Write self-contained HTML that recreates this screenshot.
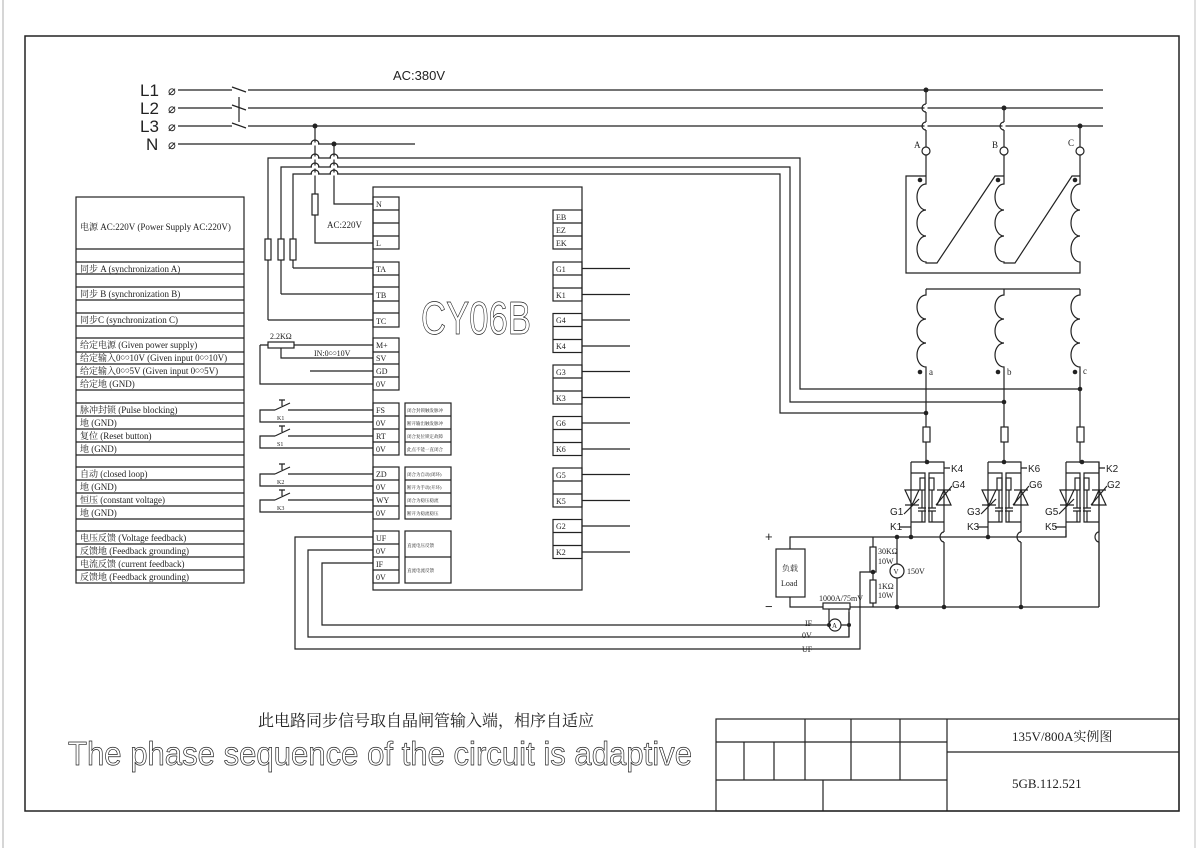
<!DOCTYPE html>
<html><head><meta charset="utf-8"><style>
html,body{margin:0;padding:0;background:#fff;}
svg{display:block;}
text{font-family:"Liberation Serif","Noto Serif CJK SC",serif;fill:#222;}
text.s,.s text{font-family:"Liberation Sans","Noto Sans CJK SC",sans-serif;}
text.o{fill:none;stroke:#222;stroke-width:0.7;}
</style></head><body>
<svg width="1200" height="848" viewBox="0 0 1200 848" xmlns="http://www.w3.org/2000/svg">
<g fill="none" stroke="#222" stroke-width="1.2">
<line x1="3" y1="0" x2="3" y2="848" stroke="#bbb"/>
<line x1="1195" y1="0" x2="1195" y2="848" stroke="#ccc"/>
<rect x="25" y="36" width="1154" height="775" stroke-width="1.5"/>
<rect x="716" y="719" width="463" height="92"/>
<line x1="947" y1="719" x2="947" y2="811"/>
<line x1="947" y1="752" x2="1179" y2="752"/>
<line x1="716" y1="742" x2="947" y2="742"/>
<line x1="716" y1="780" x2="947" y2="780"/>
<line x1="805" y1="719" x2="805" y2="780"/><line x1="851" y1="719" x2="851" y2="780"/><line x1="900" y1="719" x2="900" y2="780"/>
<line x1="744" y1="742" x2="744" y2="780"/><line x1="774" y1="742" x2="774" y2="780"/>
<line x1="823" y1="780" x2="823" y2="811"/>

<line x1="178" y1="90" x2="232" y2="90"/><line x1="232" y1="87" x2="246" y2="92"/><line x1="248" y1="90" x2="1103" y2="90"/>
<line x1="178" y1="108" x2="232" y2="108"/><line x1="232" y1="105" x2="246" y2="110"/><line x1="248" y1="108" x2="1103" y2="108"/>
<line x1="178" y1="126" x2="232" y2="126"/><line x1="232" y1="123" x2="246" y2="128"/><line x1="248" y1="126" x2="1103" y2="126"/>
<line x1="239" y1="97" x2="239" y2="122"/>
<line x1="178" y1="144" x2="415" y2="144"/>
<path d="M268 320 V158 H800 V389 H1080"/>
<path d="M281 294 V167 H790 V402 H1004"/>
<path d="M293 268 V174 H780 V413 H926"/>
<path d="M293 268 H373 M281 294 H373 M268 320 H373"/>
<rect x="265" y="239" width="6" height="21" fill="#fff"/>
<rect x="278" y="239" width="6" height="21" fill="#fff"/>
<rect x="290" y="239" width="6" height="21" fill="#fff"/>
<path d="M315 126 V243 H373"/>
<rect x="312" y="194" width="6" height="21" fill="#fff"/>
<path d="M334 144 V204 H373"/>
<g stroke="#fff" stroke-width="3"><line x1="312" y1="144" x2="318" y2="144"/><line x1="312" y1="158" x2="318" y2="158"/><line x1="312" y1="167" x2="318" y2="167"/><line x1="312" y1="174" x2="318" y2="174"/><line x1="331" y1="158" x2="337" y2="158"/><line x1="331" y1="167" x2="337" y2="167"/><line x1="331" y1="174" x2="337" y2="174"/></g>
<path d="M311 144 a4 4 0 0 1 8 0 M311 158 a4 4 0 0 1 8 0 M311 167 a4 4 0 0 1 8 0 M311 174 a4 4 0 0 1 8 0 M330 158 a4 4 0 0 1 8 0 M330 167 a4 4 0 0 1 8 0 M330 174 a4 4 0 0 1 8 0"/>

<rect x="76" y="197" width="168" height="386"/>
<path d="M76 249H244M76 262H244M76 274H244M76 287H244M76 300H244M76 313H244M76 326H244M76 338H244M76 352H244M76 364H244M76 377H244M76 390H244M76 403H244M76 416H244M76 429H244M76 442H244M76 455H244M76 467H244M76 480H244M76 493H244M76 506H244M76 519H244M76 531H244M76 544H244M76 557H244M76 570H244"/>

<rect x="373" y="187" width="209" height="403"/>
<rect x="373" y="197" width="26" height="52"/><path d="M373 210H399M373 223H399M373 236H399"/>
<rect x="373" y="262" width="26" height="65"/><path d="M373 275H399M373 287H399M373 301H399M373 313H399"/>
<rect x="373" y="338" width="26" height="52"/><path d="M373 352H399M373 364H399M373 377H399"/>
<rect x="373" y="403" width="26" height="52"/><path d="M373 416H399M373 429H399M373 442H399"/>
<rect x="373" y="467" width="26" height="52"/><path d="M373 480H399M373 493H399M373 506H399"/>
<rect x="373" y="531" width="26" height="52"/><path d="M373 544H399M373 557H399M373 570H399"/>
<rect x="405" y="403" width="46" height="52"/><path d="M405 416H451M405 429H451M405 442H451"/>
<rect x="405" y="467" width="46" height="52"/><path d="M405 480H451M405 493H451M405 506H451"/>
<rect x="405" y="531" width="46" height="52"/><path d="M405 557H451"/>
<rect x="553" y="210" width="29" height="39"/><path d="M553 223H582M553 236H582"/>
<g id="gk"><rect x="553" y="262" width="29" height="39"/><path d="M553 275H582M553 288H582M582 268.5H630M582 294.5H630"/></g>
<use href="#gk" y="51.5"/><use href="#gk" y="103"/><use href="#gk" y="154.5"/><use href="#gk" y="206"/><use href="#gk" y="257.5"/>

<path d="M293 345 H373 M260 345 H268 M260 345 V384 H373 M281 348 V358 H373 M310 371 H373"/>
<rect x="268" y="342" width="26" height="6" fill="#fff"/>
<g id="sw"><path d="M373 410 H288 M275 410 H260 V422 H373 M275 410 L290 403 M282 400 L282 406 M279 400 L285 400"/></g>
<use href="#sw" y="26"/><use href="#sw" y="64"/><use href="#sw" y="90"/>
<path d="M373 537 H295 V649 H860 V600"/>
<path d="M373 550 H308 V637 H849 V612"/>
<path d="M373 563 H322 V625 H829"/>

<path d="M926 90 V147 M926 155 V176"/><path d="M1004 108 V147 M1004 155 V176"/><path d="M1080 126 V147 M1080 155 V176"/>
<g stroke="#fff" stroke-width="3"><line x1="926" y1="104" x2="926" y2="112"/><line x1="926" y1="122" x2="926" y2="130"/><line x1="1004" y1="122" x2="1004" y2="130"/></g>
<path d="M926 104 a4 4 0 0 0 0 8 M926 122 a4 4 0 0 0 0 8 M1004 122 a4 4 0 0 0 0 8"/>
<circle cx="926" cy="151" r="4"/><circle cx="1004" cy="151" r="4"/><circle cx="1080" cy="151" r="4"/>
<path d="M926 176 H906 V273 H1080 V263"/>
<path d="M926 176 V184 a9 13 0 0 0 0 26 a9 13 0 0 0 0 26 a9 13 0 0 0 0 26 V263 H937 L995 176 H1004"/>
<path d="M1004 176 V184 a9 13 0 0 0 0 26 a9 13 0 0 0 0 26 a9 13 0 0 0 0 26 V263 H1015 L1072 176 H1080"/>
<path d="M1080 176 V184 a9 13 0 0 0 0 26 a9 13 0 0 0 0 26 a9 13 0 0 0 0 26 V263"/>
<path d="M926 289 H1080"/>
<path d="M926 289 V295 a9 12 0 0 0 0 24 a9 12 0 0 0 0 24 a9 12 0 0 0 0 24 V463"/>
<path d="M1004 289 V295 a9 12 0 0 0 0 24 a9 12 0 0 0 0 24 a9 12 0 0 0 0 24 V463"/>
<path d="M1080 289 V295 a9 12 0 0 0 0 24 a9 12 0 0 0 0 24 a9 12 0 0 0 0 24 V463"/>
<rect x="923" y="427" width="7" height="15" fill="#fff"/><rect x="1001" y="427" width="7" height="15" fill="#fff"/><rect x="1077" y="427" width="7" height="15" fill="#fff"/>

<g id="th">
<path d="M911 462 H944 V532 M944 542 V607 M911 462 V537 M900 527 H911 M944 468 H950"/>
<path d="M944 532 a4 5 0 0 0 0 10"/>
<path d="M911 473 H925 V522 H911 M944 473 H929 V522 H944"/>
<path d="M905 490 H919 L912 505 Z M905 505 H919 M937 505 H951 L944 490 Z M937 490 H951"/>
<path d="M904 514 L919 499 M936 505 L952 486"/>
<rect x="920" y="478" width="5" height="12"/><rect x="929" y="478" width="5" height="12"/>
<path d="M922 490 V508 M918 508 H926 M918 511 H926 M922 511 V522 M932 490 V508 M928 508 H936 M928 511 H936 M932 511 V522"/>
</g>
<use href="#th" x="77"/><use href="#th" x="155"/>
<path d="M790 549 V537 H1066 V530"/>
<path d="M790 597 V607 H1099"/>
<path d="M1099 607 V462"/>
<rect x="776" y="549" width="29" height="48"/>
<path d="M873 537 V547 M873 572 V580 M873 603 V607 M860 600 V572 H873"/>
<rect x="870" y="547" width="6" height="25" fill="#fff"/><rect x="870" y="580" width="6" height="23" fill="#fff"/>
<path d="M897 537 V564 M897 578 V607"/><circle cx="897" cy="571" r="7"/>
<rect x="823" y="603" width="27" height="6" fill="#fff"/>
<path d="M829 609 V625 M849 609 V637 M849 625 H841"/><circle cx="835" cy="625" r="6"/>
</g>
<g fill="#222">
<circle cx="315" cy="126" r="2.5"/><circle cx="334" cy="144" r="2.5"/>
<circle cx="926" cy="90" r="2.5"/><circle cx="1004" cy="108" r="2.5"/><circle cx="1080" cy="126" r="2.5"/>
<circle cx="920" cy="180" r="2.3"/><circle cx="998" cy="180" r="2.3"/><circle cx="1075" cy="180" r="2.3"/>
<circle cx="920" cy="372" r="2.3"/><circle cx="998" cy="372" r="2.3"/><circle cx="1075" cy="372" r="2.3"/>
<circle cx="926" cy="413" r="2.3"/><circle cx="1004" cy="402" r="2.3"/><circle cx="1080" cy="389" r="2.3"/>
<circle cx="927" cy="462" r="2.3"/><circle cx="1004" cy="462" r="2.3"/><circle cx="1082" cy="462" r="2.3"/>
<circle cx="897" cy="537" r="2.3"/><circle cx="911" cy="537" r="2.3"/><circle cx="988" cy="537" r="2.3"/>
<circle cx="873" cy="572" r="2.3"/><circle cx="897" cy="607" r="2.3"/><circle cx="944" cy="607" r="2.3"/><circle cx="1021" cy="607" r="2.3"/>
<circle cx="829" cy="625" r="2"/><circle cx="849" cy="625" r="2"/>
</g>

<g class="s" font-size="17">
<text x="140" y="96">L1</text><text x="140" y="114">L2</text><text x="140" y="132">L3</text><text x="146" y="150">N</text>
</g>
<g font-size="13"><text x="168" y="95">⌀</text><text x="168" y="113">⌀</text><text x="168" y="131">⌀</text><text x="168" y="149">⌀</text></g>
<text class="s" x="393" y="80" font-size="13">AC:380V</text>
<text x="327" y="228" font-size="9">AC:220V</text>
<text class="s o" x="421" y="334" font-size="46" textLength="110" lengthAdjust="spacingAndGlyphs">CY06B</text>
<g font-size="9">
<text x="80" y="230">电源 AC:220V (Power Supply AC:220V)</text>
<text x="80" y="272">同步 A (synchronization A)</text>
<text x="80" y="297">同步 B (synchronization B)</text>
<text x="80" y="323">同步C (synchronization C)</text>
<text x="80" y="348">给定电源 (Given power supply)</text>
<text x="80" y="361">给定输入0∽10V (Given input 0∽10V)</text>
<text x="80" y="374">给定输入0∽5V (Given input 0∽5V)</text>
<text x="80" y="387">给定地 (GND)</text>
<text x="80" y="413">脉冲封锁 (Pulse blocking)</text>
<text x="80" y="426">地 (GND)</text>
<text x="80" y="439">复位 (Reset button)</text>
<text x="80" y="452">地 (GND)</text>
<text x="80" y="477">自动 (closed loop)</text>
<text x="80" y="490">地 (GND)</text>
<text x="80" y="503">恒压 (constant voltage)</text>
<text x="80" y="516">地 (GND)</text>
<text x="80" y="541">电压反馈 (Voltage feedback)</text>
<text x="80" y="554">反馈地 (Feedback grounding)</text>
<text x="80" y="567">电流反馈 (current feedback)</text>
<text x="80" y="580">反馈地 (Feedback grounding)</text>
</g>
<g font-size="8">
<text x="376" y="207">N</text><text x="376" y="246">L</text>
<text x="376" y="272">TA</text><text x="376" y="298">TB</text><text x="376" y="324">TC</text>
<text x="376" y="348">M+</text><text x="376" y="361">SV</text><text x="376" y="374">GD</text><text x="376" y="387">0V</text>
<text x="376" y="413">FS</text><text x="376" y="426">0V</text><text x="376" y="439">RT</text><text x="376" y="452">0V</text>
<text x="376" y="477">ZD</text><text x="376" y="490">0V</text><text x="376" y="503">WY</text><text x="376" y="516">0V</text>
<text x="376" y="541">UF</text><text x="376" y="554">0V</text><text x="376" y="567">IF</text><text x="376" y="580">0V</text>
<text x="556" y="220">EB</text><text x="556" y="233">EZ</text><text x="556" y="246">EK</text>
<text x="556" y="272">G1</text><text x="556" y="298">K1</text><text x="556" y="323">G4</text><text x="556" y="349">K4</text>
<text x="556" y="375">G3</text><text x="556" y="401">K3</text><text x="556" y="426">G6</text><text x="556" y="452">K6</text>
<text x="556" y="478">G5</text><text x="556" y="504">K5</text><text x="556" y="529">G2</text><text x="556" y="555">K2</text>
<text x="270" y="339">2.2KΩ</text><text x="314" y="356">IN:0∽10V</text>
<text x="277" y="420" font-size="6">K1</text><text x="277" y="446" font-size="6">S1</text><text x="277" y="484" font-size="6">K2</text><text x="277" y="510" font-size="6">K3</text>
</g>
<g font-size="4.5">
<text x="407" y="412">闭合封锁触发脉冲</text><text x="407" y="425">断开输出触发脉冲</text><text x="407" y="438">闭合复位锁定故障</text><text x="407" y="451">此点不能一直闭合</text>
<text x="407" y="476">闭合为自动(闭环)</text><text x="407" y="489">断开为手动(开环)</text><text x="407" y="502">闭合为稳压稳流</text><text x="407" y="515">断开为稳流稳压</text>
<text x="407" y="547">直流电压反馈</text><text x="407" y="572">直流电流反馈</text>
</g>
<g font-size="9">
<text x="914" y="148">A</text><text x="992" y="148">B</text><text x="1068" y="146">C</text>
<text x="929" y="375">a</text><text x="1007" y="375">b</text><text x="1083" y="374">c</text>
</g>
<g class="s" font-size="10">
<text x="951" y="472">K4</text><text x="952" y="488">G4</text><text x="890" y="515">G1</text><text x="890" y="530">K1</text>
<text x="1028" y="472">K6</text><text x="1029" y="488">G6</text><text x="967" y="515">G3</text><text x="967" y="530">K3</text>
<text x="1106" y="472">K2</text><text x="1107" y="488">G2</text><text x="1045" y="515">G5</text><text x="1045" y="530">K5</text>
<text x="765" y="541" font-size="13">+</text><text x="765" y="611" font-size="13">−</text>
</g>
<g font-size="8">
<text x="782" y="571">负载</text><text x="781" y="586">Load</text>
<text x="878" y="554">30KΩ</text><text x="878" y="564">10W</text>
<text x="878" y="589">1KΩ</text><text x="878" y="598">10W</text>
<text x="907" y="574">150V</text><text x="893.5" y="574" font-size="7">V</text>
<text x="819" y="601">1000A/75mV</text><text x="832" y="628" font-size="7">A</text>
<text x="805" y="626">IF</text><text x="802" y="638">0V</text><text x="802" y="652">UF</text>
</g>
<text x="258" y="726" font-size="16">此电路同步信号取自晶闸管输入端，相序自适应</text>
<text class="s o" x="68" y="765" font-size="33" textLength="624" lengthAdjust="spacingAndGlyphs">The phase sequence of the circuit is adaptive</text>
<text x="1012" y="741" font-size="13">135V/800A实例图</text>
<text x="1012" y="788" font-size="13">5GB.112.521</text>
</svg>
</body></html>
